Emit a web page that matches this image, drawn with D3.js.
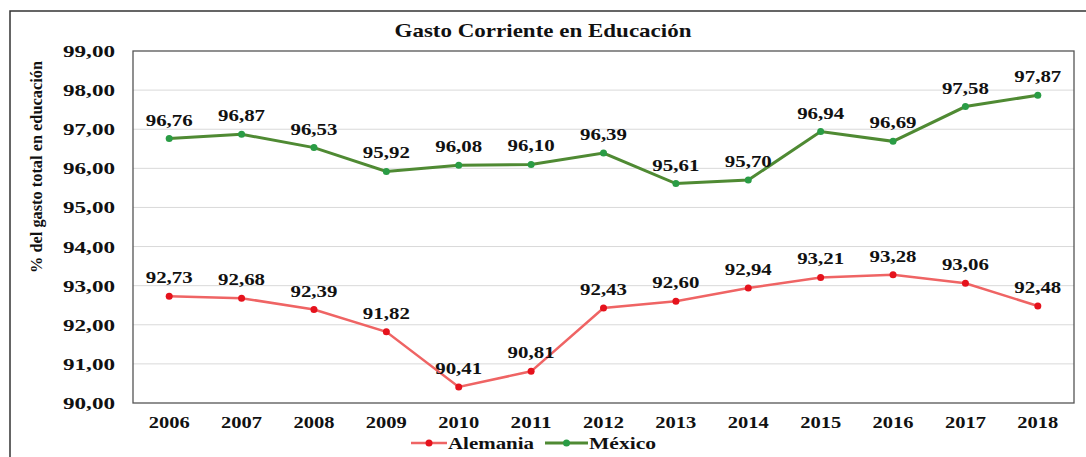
<!DOCTYPE html>
<html>
<head>
<meta charset="utf-8">
<script src="https://cdn.jsdelivr.net/npm/d3@7"></script>
<style>
  body { margin: 0; background: #fff; }
  text { font-family: "Liberation Serif", "Times New Roman", serif; font-weight: bold; fill: #111; }
</style>
</head>
<body>
<svg id="chart" width="1086" height="457"></svg>
<script>
// Data
var years = ["2006","2007","2008","2009","2010","2011","2012","2013","2014","2015","2016","2017","2018"];
var alemania = [92.73, 92.68, 92.39, 91.82, 90.41, 90.81, 92.43, 92.60, 92.94, 93.21, 93.28, 93.06, 92.48];
var mexico = [96.76, 96.87, 96.53, 95.92, 96.08, 96.10, 96.39, 95.61, 95.70, 96.94, 96.69, 97.58, 97.87];
var yTicks = [90, 91, 92, 93, 94, 95, 96, 97, 98, 99];

var title = "Gasto Corriente en Educación",
    yTitle = "% del gasto total en educación";

var series = [
  {name: "Alemania", values: alemania, line: "#ef6464", dot: "#e5121c", lw: 2.5},
  {name: "México", values: mexico, line: "#4f8a33", dot: "#2a9c45", lw: 3}
];

// Plot area
var m = {left: 133, top: 51, right: 1074, bottom: 403};
var svg = d3.select("#chart");

var fmt = function(v) { return d3.format(".2f")(v).replace(".", ","); };

var x = d3.scalePoint().domain(years).range([m.left, m.right]).padding(0.5),
    y = d3.scaleLinear().domain([90, 99]).range([m.bottom, m.top]);

// outer frame (cut off on right and bottom)
svg.append("rect")
   .attr("x", 10).attr("y", 11)
   .attr("width", 1100).attr("height", 470)
   .attr("fill", "none").attr("stroke", "#333").attr("stroke-width", 1.5);

// title
svg.append("text")
   .attr("x", 543).attr("y", 37)
   .attr("text-anchor", "middle")
   .style("font-size", "19px")
   .attr("textLength", 297).attr("lengthAdjust", "spacingAndGlyphs")
   .text(title);

// y title
svg.append("text")
   .attr("transform", "translate(42,167) rotate(-90)")
   .attr("text-anchor", "middle")
   .style("font-size", "17px")
   .attr("textLength", 212).attr("lengthAdjust", "spacingAndGlyphs")
   .text(yTitle);

// gridlines
svg.append("g").selectAll("line")
   .data(yTicks.slice(1, -1)).enter()
   .append("line")
   .attr("x1", m.left).attr("x2", m.right)
   .attr("y1", d => y(d)).attr("y2", d => y(d))
   .attr("stroke", "#d9d9d9").attr("stroke-width", 1);

// plot border
svg.append("rect")
   .attr("x", m.left).attr("y", m.top)
   .attr("width", m.right - m.left).attr("height", m.bottom - m.top)
   .attr("fill", "none").attr("stroke", "#555").attr("stroke-width", 1.3);

// y tick labels
svg.append("g").selectAll("text")
   .data(yTicks).enter()
   .append("text")
   .attr("x", 115).attr("y", d => y(d))
   .attr("dy", "0.35em")
   .attr("text-anchor", "end")
   .style("font-size", "17px")
   .attr("textLength", 52).attr("lengthAdjust", "spacingAndGlyphs")
   .text(fmt);

// x tick labels
svg.append("g").selectAll("text")
   .data(years).enter()
   .append("text")
   .attr("x", d => x(d)).attr("y", 428)
   .attr("text-anchor", "middle")
   .style("font-size", "17px")
   .attr("textLength", 41).attr("lengthAdjust", "spacingAndGlyphs")
   .text(d => d);

var line = d3.line()
    .x((d, i) => x(years[i]))
    .y(d => y(d));

series.forEach(function(s) {
  var g = svg.append("g");
  g.append("path")
   .datum(s.values)
   .attr("d", line)
   .attr("fill", "none")
   .attr("stroke", s.line)
   .attr("stroke-width", s.lw);
  g.selectAll("circle")
   .data(s.values).enter()
   .append("circle")
   .attr("cx", (d, i) => x(years[i]))
   .attr("cy", d => y(d))
   .attr("r", 3.5)
   .attr("fill", s.dot);
  g.selectAll("text")
   .data(s.values).enter()
   .append("text")
   .attr("x", (d, i) => x(years[i]))
   .attr("y", d => y(d) - 13)
   .attr("text-anchor", "middle")
   .style("font-size", "17px")
   .attr("textLength", 47).attr("lengthAdjust", "spacingAndGlyphs")
   .text(fmt);
});

// legend
var legend = [
  {s: series[0], x1: 411, x2: 447, tw: 86},
  {s: series[1], x1: 545, x2: 588, tw: 67}
];
legend.forEach(function(l) {
  svg.append("line")
     .attr("x1", l.x1).attr("x2", l.x2)
     .attr("y1", 443).attr("y2", 443)
     .attr("stroke", l.s.line).attr("stroke-width", l.s.lw);
  svg.append("circle")
     .attr("cx", (l.x1 + l.x2) / 2).attr("cy", 443)
     .attr("r", 3.5).attr("fill", l.s.dot);
  svg.append("text")
     .attr("x", l.x2 + 1).attr("y", 449)
     .style("font-size", "17px")
     .attr("textLength", l.tw).attr("lengthAdjust", "spacingAndGlyphs")
     .text(l.s.name);
});
</script>
</body>
</html>
